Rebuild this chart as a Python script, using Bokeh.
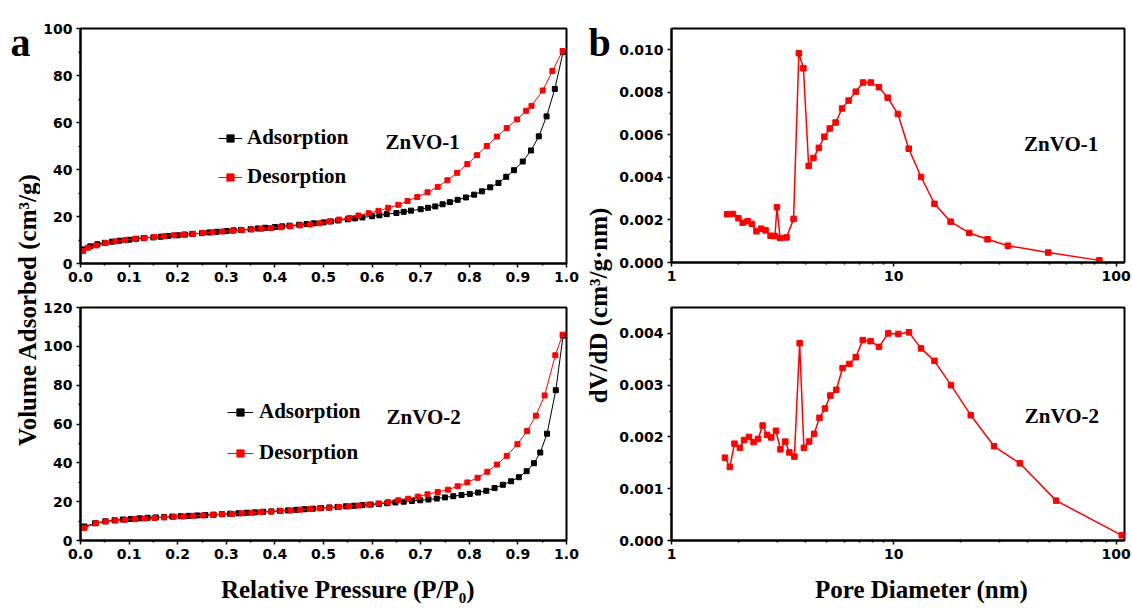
from math import pi
from bokeh.plotting import figure
from bokeh.layouts import row, column
from bokeh.models import Range1d, FixedTicker, PrintfTickFormatter, Legend, LegendItem, Label
from bokeh.core.properties import value
from bokeh.embed import file_html
from bokeh.resources import INLINE

# ---------------- data ----------------
zn1_ads_p = [0.005, 0.02, 0.035, 0.05, 0.065, 0.08, 0.1, 0.115, 0.13, 0.15, 0.165, 0.18,
             0.2, 0.215, 0.23, 0.25, 0.265, 0.28, 0.3, 0.315, 0.33, 0.35, 0.365, 0.38,
             0.4, 0.415, 0.43, 0.45, 0.465, 0.48, 0.5, 0.515, 0.53, 0.55, 0.565, 0.58,
             0.6, 0.615, 0.63, 0.65, 0.665, 0.68, 0.7, 0.715, 0.73, 0.745, 0.76,
             0.776, 0.793, 0.81, 0.826, 0.843, 0.86, 0.876, 0.892, 0.91, 0.927, 0.943,
             0.959, 0.976, 0.993]
zn1_ads_v = [6.0, 7.3, 8.2, 8.8, 9.3, 9.7, 10.1, 10.5, 10.8, 11.1, 11.4, 11.7,
             12.0, 12.3, 12.6, 12.9, 13.2, 13.5, 13.8, 14.1, 14.3, 14.6, 14.9, 15.2,
             15.5, 15.8, 16.1, 16.5, 16.8, 17.1, 17.5, 17.9, 18.3, 18.8, 19.2, 19.6,
             20.1, 20.5, 21.0, 21.5, 22.0, 22.5, 23.1, 23.7, 24.3, 25.2, 26.1,
             27.1, 28.1, 29.3, 30.7, 32.4, 34.3, 36.9, 39.7, 43.4, 48.1, 54.1,
             62.6, 74.3, 90.0]
zn1_des_p = [0.992, 0.971, 0.951, 0.928, 0.917, 0.898, 0.877, 0.857, 0.836, 0.816,
             0.796, 0.775, 0.755, 0.735, 0.714, 0.693, 0.673, 0.654, 0.633, 0.613,
             0.593, 0.572, 0.553, 0.532, 0.512, 0.492, 0.472, 0.452, 0.432, 0.412,
             0.392, 0.372, 0.352, 0.332, 0.312, 0.292, 0.272, 0.252, 0.232, 0.212,
             0.192, 0.172, 0.152, 0.132, 0.112, 0.092, 0.072, 0.052, 0.032, 0.015, 0.005]
zn1_des_v = [90.4, 81.9, 73.6, 67.1, 65.0, 61.3, 57.6, 54.0, 50.0, 46.1,
             42.3, 38.6, 35.4, 32.6, 30.3, 28.3, 26.6, 25.0, 23.7, 22.4,
             21.4, 20.4, 19.4, 18.7, 17.9, 17.1, 16.6, 16.2, 15.8, 15.4,
             15.1, 14.8, 14.5, 14.2, 13.9, 13.6, 13.3, 13.0, 12.6, 12.3,
             12.0, 11.6, 11.3, 10.9, 10.5, 10.0, 9.4, 8.7, 7.7, 6.7, 5.3]

zn2_ads_p = [0.008, 0.03, 0.051, 0.07, 0.087, 0.104, 0.121, 0.138, 0.155, 0.172,
             0.189, 0.206, 0.223, 0.24, 0.257, 0.274, 0.291, 0.308, 0.325, 0.342,
             0.359, 0.376, 0.393, 0.41, 0.427, 0.444, 0.461, 0.478, 0.495, 0.512,
             0.529, 0.546, 0.563, 0.58, 0.597, 0.614, 0.631, 0.648, 0.665, 0.682,
             0.699, 0.716, 0.733, 0.75, 0.767, 0.784, 0.801, 0.818, 0.835, 0.852,
             0.869, 0.886, 0.902, 0.918, 0.933, 0.946, 0.96, 0.978, 0.993]
zn2_ads_v = [7.2, 8.9, 9.9, 10.4, 10.8, 11.1, 11.4, 11.7, 11.9, 12.1,
             12.3, 12.5, 12.7, 12.9, 13.1, 13.3, 13.6, 13.8, 14.0, 14.3,
             14.5, 14.8, 15.0, 15.3, 15.5, 15.8, 16.1, 16.4, 16.7, 17.0,
             17.3, 17.6, 17.9, 18.2, 18.5, 18.8, 19.2, 19.6, 20.0, 20.4,
             20.7, 21.1, 21.6, 22.2, 22.8, 23.4, 24.0, 24.7, 25.6, 27.0,
             28.7, 30.5, 32.6, 35.7, 39.8, 45.3, 55.0, 77.4, 105.5]
zn2_des_p = [0.992, 0.977, 0.955, 0.937, 0.919, 0.899, 0.877, 0.857, 0.837, 0.817,
             0.796, 0.776, 0.756, 0.735, 0.714, 0.694, 0.674, 0.654, 0.633, 0.613,
             0.593, 0.572, 0.552, 0.532, 0.512, 0.492, 0.472, 0.452, 0.432, 0.412,
             0.392, 0.372, 0.352, 0.332, 0.312, 0.292, 0.272, 0.252, 0.232, 0.212,
             0.192, 0.172, 0.152, 0.132, 0.112, 0.092, 0.072, 0.052, 0.032, 0.008]
zn2_des_v = [106.0, 95.4, 74.7, 64.3, 56.4, 49.6, 43.6, 39.1, 35.4, 32.3,
             29.9, 27.9, 26.2, 25.0, 23.8, 22.6, 21.5, 20.7, 19.8, 19.1,
             18.5, 18.0, 17.6, 17.2, 16.9, 16.6, 16.2, 15.9, 15.5, 15.2,
             14.9, 14.6, 14.3, 14.0, 13.7, 13.5, 13.2, 12.9, 12.7, 12.4,
             12.2, 11.9, 11.6, 11.3, 11.0, 10.7, 10.3, 9.8, 8.9, 6.5]

psd1_d = [1.78, 1.89, 2.0, 2.09, 2.2, 2.3, 2.41, 2.53, 2.65, 2.79,
          2.92, 2.98, 3.08, 3.29, 3.54, 3.74, 3.92, 4.14, 4.35, 4.6,
          4.87, 5.15, 5.47, 5.85, 6.26, 6.74, 7.27, 7.88, 8.57, 9.38,
          10.43, 11.67, 13.26, 15.23, 18.0, 21.83, 26.39, 32.59, 49.5, 84.0]
psd1_v = [0.00227, 0.00228, 0.00208, 0.00187, 0.00194, 0.00181, 0.00147, 0.00159, 0.00151, 0.00126,
          0.00124, 0.0026, 0.00115, 0.00118, 0.00205, 0.00984, 0.00913, 0.00454, 0.00491, 0.00539,
          0.00591, 0.0063, 0.00658, 0.00724, 0.00761, 0.00803, 0.00846, 0.00846, 0.00824, 0.00775,
          0.00698, 0.00535, 0.00402, 0.00276, 0.00192, 0.00139, 0.00109, 0.00079, 0.00047, 0.0001]

psd2_d = [1.74, 1.83, 1.92, 2.03, 2.12, 2.23, 2.34, 2.45, 2.57, 2.69,
          2.81, 2.95, 3.09, 3.25, 3.39, 3.57, 3.77, 3.94, 4.16, 4.38,
          4.63, 4.9, 5.18, 5.51, 5.88, 6.31, 6.74, 7.25, 7.86, 8.58,
          9.43, 10.48, 11.7, 13.25, 15.23, 18.07, 22.18, 28.24, 36.86, 53.7, 106.0]
psd2_v = [0.0016, 0.00142, 0.00187, 0.00179, 0.00194, 0.002, 0.0019, 0.00196, 0.00222, 0.00204,
          0.00199, 0.00212, 0.00176, 0.00191, 0.0017, 0.00162, 0.00381, 0.00179, 0.00191, 0.00206,
          0.00237, 0.00255, 0.0028, 0.00291, 0.00333, 0.00341, 0.00354, 0.00387, 0.00385, 0.00374,
          0.004, 0.00399, 0.00402, 0.00371, 0.00347, 0.003, 0.00242, 0.00182, 0.00149, 0.00077, 0.0001]

# ticks
p_ticks = [0.0, 0.1, 0.2, 0.3, 0.4, 0.5, 0.6, 0.7, 0.8, 0.9, 1.0]
p_minor = [0.05, 0.15, 0.25, 0.35, 0.45, 0.55, 0.65, 0.75, 0.85, 0.95]
v1_ticks = [0, 20, 40, 60, 80, 100]
v1_minor = [10, 30, 50, 70, 90]
v2_ticks = [0, 20, 40, 60, 80, 100, 120]
v2_minor = [10, 30, 50, 70, 90, 110]
d_ticks = [1, 10, 100]
d_minor = [2, 3, 4, 5, 6, 7, 8, 9, 20, 30, 40, 50, 60, 70, 80, 90]
psd1_ticks = [0.0, 0.002, 0.004, 0.006, 0.008, 0.010]
psd1_minor = [0.001, 0.003, 0.005, 0.007, 0.009]
psd2_ticks = [0.0, 0.001, 0.002, 0.003, 0.004]
psd2_minor = [0.0005, 0.0015, 0.0025, 0.0035]

SERIF = "Liberation Serif"
SANS = "DejaVu Sans"
RED = "#ff0000"
BLACK = "#000000"


def make_panel(w, h, xr, yr, borders, x_log=False):
    l, r, t, b = borders
    p = figure(width=w, height=h, x_range=xr, y_range=yr,
               x_axis_type="log" if x_log else "linear",
               min_border_left=l, min_border_right=r, min_border_top=t, min_border_bottom=b,
               output_backend="svg", toolbar_location=None)
    p.xgrid.visible = False
    p.ygrid.visible = False
    p.outline_line_color = "black"
    p.outline_line_width = 2
    p.outline_line_alpha = 1
    p.background_fill_color = "white"
    p.border_fill_color = "white"
    for ax in (p.xaxis[0], p.yaxis[0]):
        ax.axis_line_width = 2
        ax.axis_line_color = "black"
        ax.major_tick_in = 0
        ax.major_tick_out = 4
        ax.minor_tick_in = 0
        ax.minor_tick_out = 2
        ax.major_tick_line_width = 1.5
        ax.minor_tick_line_width = 1.5
        ax.major_tick_line_color = "black"
        ax.minor_tick_line_color = "black"
        ax.major_label_text_font = SANS
        ax.major_label_text_font_style = "bold"
        ax.major_label_text_font_size = "14px"
        ax.major_label_text_color = "black"
        ax.major_label_standoff = 4
    return p


def set_ticks(p, xt, xm, yt, ym, xfmt, yfmt):
    p.xaxis[0].ticker = FixedTicker(ticks=xt, minor_ticks=xm)
    p.yaxis[0].ticker = FixedTicker(ticks=yt, minor_ticks=ym)
    if xfmt:
        p.xaxis[0].formatter = PrintfTickFormatter(format=xfmt)
    if yfmt:
        p.yaxis[0].formatter = PrintfTickFormatter(format=yfmt)


def iso_panel(p, ap, av, dp, dv, loc, gw, stand, spacing):
    al = p.line(ap, av, line_color=BLACK, line_width=1)
    asq = p.scatter(ap, av, marker="square", size=5, color=BLACK)
    dl = p.line(dp, dv, line_color=RED, line_width=1)
    dsq = p.scatter(dp, dv, marker="square", size=5, color=RED)
    leg = Legend(items=[LegendItem(label="Adsorption", renderers=[al, asq]),
                        LegendItem(label="Desorption", renderers=[dl, dsq])],
                 location=loc)
    leg.label_text_font = SERIF
    leg.label_text_font_style = "bold"
    leg.label_text_font_size = "21px"
    leg.label_text_color = "black"
    leg.glyph_width = gw
    leg.glyph_height = 18
    leg.label_height = 24
    leg.label_standoff = stand
    leg.spacing = spacing
    leg.padding = 0
    leg.margin = 0
    leg.border_line_color = None
    leg.background_fill_alpha = 0
    p.add_layout(leg)


def tag(p, x, y, text, size="21px"):
    p.add_layout(Label(x=x, y=y, text=text, text_align="center", text_baseline="middle",
                       text_font=SERIF, text_font_style="bold", text_font_size=size,
                       text_color="black"))


# ---- left column (isotherms)
tl = make_panel(540, 290, Range1d(0, 1), Range1d(0, 100), (39, 14, 28, 27))
set_ticks(tl, p_ticks, p_minor, v1_ticks, v1_minor, "%.1f", None)
iso_panel(tl, zn1_ads_p, zn1_ads_v, zn1_des_p, zn1_des_v, (138, 74), 24, 5, 14)
tag(tl, 0.704, 51.5, "ZnVO-1")

bl = make_panel(540, 282, Range1d(0, 1), Range1d(0, 120), (39, 14, 17, 32))
set_ticks(bl, p_ticks, p_minor, v2_ticks, v2_minor, "%.1f", None)
iso_panel(bl, zn2_ads_p, zn2_ads_v, zn2_des_p, zn2_des_v, (147, 75), 26, 6, 16)
tag(bl, 0.706, 63.5, "ZnVO-2")

# ---- right column (pore size distributions)
tr = make_panel(516, 290, Range1d(1, 109), Range1d(0, 0.011), (54, 8, 28, 28), x_log=True)
set_ticks(tr, d_ticks, d_minor, psd1_ticks, psd1_minor, "%d", "%.3f")
tr.line(psd1_d, psd1_v, line_color=RED, line_width=1.5)
tr.scatter(psd1_d, psd1_v, marker="square", size=5.5, color=RED)
tag(tr, 56.6, 0.00559, "ZnVO-1")

br = make_panel(516, 282, Range1d(1, 109), Range1d(0, 0.0045), (54, 8, 17, 32), x_log=True)
set_ticks(br, d_ticks, d_minor, psd2_ticks, psd2_minor, "%d", "%.3f")
br.line(psd2_d, psd2_v, line_color=RED, line_width=1.5)
br.scatter(psd2_d, psd2_v, marker="square", size=5.5, color=RED)
tag(br, 57, 0.00241, "ZnVO-2")


# ---- text strips
def strip(w, h):
    s = figure(width=w, height=h, x_range=Range1d(0, w), y_range=Range1d(0, h),
               min_border=0, output_backend="svg", toolbar_location=None)
    s.axis.visible = False
    s.grid.visible = False
    s.outline_line_color = None
    s.background_fill_color = "white"
    s.border_fill_color = "white"
    return s


def stext(s, x, y, t, size, angle=0.0, baseline="middle"):
    s.text(x=[x], y=[y], text=[t], angle=angle, text_align="center", text_baseline=baseline,
           text_font=value(SERIF), text_font_style="bold", text_font_size=size,
           text_color="black")


left_strip = strip(40, 610)
stext(left_strip, 20, 568, "a", "40px", baseline="alphabetic")
stext(left_strip, 27, 301, "Volume Adsorbed (cm\u00b3/g)", "25px", angle=pi / 2)

mid_strip = strip(36, 610)
stext(mid_strip, 19, 568, "b", "40px", baseline="alphabetic")
stext(mid_strip, 18, 305, "dV/dD (cm\u00b3/g\u00b7nm)", "25px", angle=pi / 2)

xt_left = strip(540, 38)
stext(xt_left, 297, 21, "Relative Pressure (P/P\u2080)", "25px", baseline="middle")

xt_right = strip(516, 38)
stext(xt_right, 285, 21, "Pore Diameter (nm)", "25px", baseline="middle")

layout = row(left_strip, column(tl, bl, xt_left), mid_strip, column(tr, br, xt_right))

open("out.html", "w").write(file_html(layout, INLINE))
